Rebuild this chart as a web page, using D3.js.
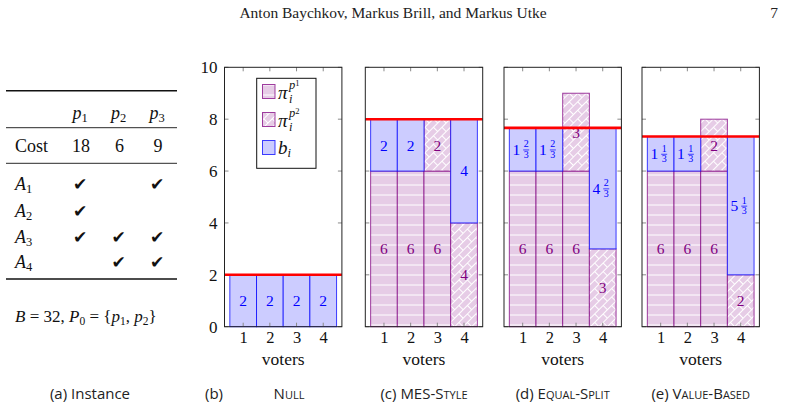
<!DOCTYPE html>
<html><head><meta charset="utf-8">
<script src="https://cdn.jsdelivr.net/npm/d3@7"></script>
<style>
html,body{margin:0;padding:0;background:#fff;}
svg{display:block;}
.serif{font-family:"Liberation Serif","DejaVu Serif",serif;}
.sans{font-family:"Open Sans","Lato",sans-serif;}
</style></head>
<body>
<svg id="c" width="785" height="411"></svg>
<script>
// ---------- data ----------
const voters = [1, 2, 3, 4];
const yTicks = [0, 2, 4, 6, 8, 10];
const methods = ["Null", "MES-Style", "Equal-Split", "Value-Based"];
const captions = ["(b)", "(c)", "(d)", "(e)"];
// per method: support for p1, support for p2, leftover budget b_i, per-voter threshold (red line)
const p1Null = [0, 0, 0, 0], p2Null = [0, 0, 0, 0], bNull = [2, 2, 2, 2], lineNull = 2;
const p1Mes = [6, 6, 6, 0], p2Mes = [0, 0, 2, 4], bMes = [2, 2, 0, 4], lineMes = 8;
const p1Eq = [6, 6, 6, 0], p2Eq = [0, 0, 3, 3], bEq = [5/3, 5/3, 0, 14/3], lineEq = 23/3;
const p1Val = [6, 6, 6, 0], p2Val = [0, 0, 2, 2], bVal = [4/3, 4/3, 0, 16/3], lineVal = 22/3;
const panelData = [
  {p1: p1Null, p2: p2Null, b: bNull, line: lineNull},
  {p1: p1Mes, p2: p2Mes, b: bMes, line: lineMes},
  {p1: p1Eq, p2: p2Eq, b: bEq, line: lineEq},
  {p1: p1Val, p2: p2Val, b: bVal, line: lineVal}
];
// instance table
const projects = ["1", "2", "3"];
const costs = [18, 6, 9];
const agents = ["1", "2", "3", "4"];
const approvals = [[1, 0, 1], [1, 0, 0], [1, 1, 1], [0, 1, 1]];

// ---------- drawing ----------
const svg = d3.select("#c");
const PURPLE = "#800080", PFILL = "#e6cce6", BLUE = "#0000ff", BFILL = "#ccccff";

const defs = svg.append("defs");
const ph = defs.append("pattern").attr("id", "hl").attr("patternUnits", "userSpaceOnUse")
  .attr("width", 10).attr("height", 10);
ph.append("line").attr("x1", 0).attr("x2", 10).attr("y1", 5).attr("y2", 5)
  .attr("stroke", "#fff").attr("stroke-width", 1);
const pb = defs.append("pattern").attr("id", "br").attr("patternUnits", "userSpaceOnUse")
  .attr("width", 12).attr("height", 12).attr("patternTransform", "rotate(-45)");
pb.append("path").attr("d", "M0,0.5H12M0,6.5H12M0.5,0.5V6.5M6.5,6.5V12.5")
  .attr("stroke", "#fff").attr("stroke-width", 1).attr("fill", "none");

// header
svg.append("text").attr("class", "serif").attr("x", 393).attr("y", 18).attr("text-anchor", "middle")
  .attr("font-size", 15.5).attr("fill", "#222").text("Anton Baychkov, Markus Brill, and Markus Utke");
svg.append("text").attr("class", "serif").attr("x", 778).attr("y", 18).attr("text-anchor", "end")
  .attr("font-size", 15.5).attr("fill", "#222").text("7");

// ---------- table ----------
const tg = svg.append("g").attr("class", "serif").attr("fill", "#111").attr("font-size", 18);
const colX = [80, 118.5, 157];
[[90.7, 1.4], [127.7, 0.9], [163.3, 0.9], [279, 1.4]].forEach(([y, w]) =>
  tg.append("line").attr("x1", 6).attr("x2", 177).attr("y1", y).attr("y2", y)
    .attr("stroke", "#111").attr("stroke-width", w));
projects.forEach((p, i) => {
  const t = tg.append("text").attr("x", colX[i]).attr("y", 119).attr("text-anchor", "middle");
  t.append("tspan").attr("font-style", "italic").text("p");
  t.append("tspan").attr("font-size", 12.5).attr("dy", 3).text(p);
});
tg.append("text").attr("x", 15).attr("y", 152).text("Cost");
costs.forEach((c, i) => tg.append("text").attr("x", colX[i] + 1).attr("y", 152)
  .attr("text-anchor", "middle").text(c));
const rowY = [190, 216.5, 242.5, 267.5];
agents.forEach((a, r) => {
  const t = tg.append("text").attr("x", 15).attr("y", rowY[r]);
  t.append("tspan").attr("font-style", "italic").text("A");
  t.append("tspan").attr("font-size", 12.5).attr("dy", 3).text(a);
  approvals[r].forEach((v, c) => {
    if (v) tg.append("text").attr("x", colX[c]).attr("y", rowY[r]).attr("text-anchor", "middle")
      .attr("font-family", "DejaVu Sans").attr("font-size", 17).text("✔");
  });
});
{
  const t = tg.append("text").attr("x", 15).attr("y", 322).attr("font-size", 17);
  t.append("tspan").attr("font-style", "italic").text("B");
  t.append("tspan").text(" = 32, ");
  t.append("tspan").attr("font-style", "italic").text("P");
  t.append("tspan").attr("font-size", 11.5).attr("dy", 3).text("0");
  t.append("tspan").attr("dy", -3).text(" = {");
  t.append("tspan").attr("font-style", "italic").text("p");
  t.append("tspan").attr("font-size", 11.5).attr("dy", 3).text("1");
  t.append("tspan").attr("dy", -3).text(", ");
  t.append("tspan").attr("font-style", "italic").text("p");
  t.append("tspan").attr("font-size", 11.5).attr("dy", 3).text("2");
  t.append("tspan").attr("dy", -3).text("}");
}
svg.append("text").attr("class", "sans").attr("x", 90).attr("y", 399).attr("text-anchor", "middle")
  .attr("font-size", 15).attr("fill", "#222").text("(a) Instance");

// ---------- panels ----------
const panelX = [224.5, 365.3, 504, 642];
const PW = 117.4, YT = 67.3, YB = 326.7;
const y = d3.scaleLinear().domain([0, 10]).range([YB, YT]);

function drawValue(g, v, cx, cy, color) {
  const thirds = Math.round(v * 3);
  const whole = Math.floor(thirds / 3), num = thirds % 3;
  if (num === 0) {
    g.append("text").attr("class", "serif").attr("x", cx).attr("y", cy).attr("dy", "0.35em")
      .attr("text-anchor", "middle").attr("font-size", 15.5).attr("fill", color).text(whole);
  } else {
    g.append("text").attr("class", "serif").attr("x", cx - 2.5).attr("y", cy).attr("dy", "0.35em")
      .attr("text-anchor", "end").attr("font-size", 15.5).attr("fill", color).text(whole);
    const fx = cx + 3.5;
    g.append("text").attr("class", "serif").attr("x", fx).attr("y", cy - 2)
      .attr("text-anchor", "middle").attr("font-size", 10).attr("fill", color).text(num);
    g.append("text").attr("class", "serif").attr("x", fx).attr("y", cy + 8.5)
      .attr("text-anchor", "middle").attr("font-size", 10).attr("fill", color).text(3);
    g.append("line").attr("x1", fx - 3).attr("x2", fx + 3).attr("y1", cy + 0.5).attr("y2", cy + 0.5)
      .attr("stroke", color).attr("stroke-width", 0.7);
  }
}

panelData.forEach((pd, k) => {
  const x0 = panelX[k];
  const x = d3.scaleLinear().domain([0.3, 4.7]).range([x0, x0 + PW]);
  const bw = x(1) - x(0);
  const g = svg.append("g");
  const rows = voters.map((v, i) => ({voter: v, p1: pd.p1[i], p2: pd.p2[i], b: pd.b[i]}));
  const series = d3.stack().keys(["p1", "p2", "b"])(rows);
  series.forEach(s => {
    const isB = s.key === "b";
    s.forEach(d => {
      const h = d[1] - d[0];
      if (h <= 0) return;
      const rx = x(d.data.voter - 0.5), ry = y(d[1]), rh = y(d[0]) - y(d[1]);
      g.append("rect").attr("x", rx).attr("y", ry).attr("width", bw).attr("height", rh)
        .attr("fill", isB ? BFILL : PFILL);
      if (!isB) g.append("rect").attr("x", rx).attr("y", ry).attr("width", bw).attr("height", rh)
        .attr("fill", s.key === "p1" ? "url(#hl)" : "url(#br)");
      g.append("rect").attr("x", rx).attr("y", ry).attr("width", bw).attr("height", rh)
        .attr("fill", "none").attr("stroke", isB ? BLUE : PURPLE).attr("stroke-width", 1)
        .attr("stroke-opacity", 0.75);
    });
  });
  // value labels
  series.forEach(s => {
    s.forEach(d => {
      const h = d[1] - d[0];
      if (h <= 0) return;
      drawValue(g, h, x(d.data.voter), y((d[0] + d[1]) / 2), s.key === "b" ? BLUE : PURPLE);
    });
  });
  // ticks (inside)
  const tick = g.append("g").attr("stroke", "#8a8a8a").attr("stroke-width", 1);
  yTicks.forEach(t => {
    tick.append("line").attr("x1", x0).attr("x2", x0 + 4).attr("y1", y(t)).attr("y2", y(t));
    tick.append("line").attr("x1", x0 + PW - 4).attr("x2", x0 + PW).attr("y1", y(t)).attr("y2", y(t));
  });
  voters.forEach(v => {
    tick.append("line").attr("x1", x(v)).attr("x2", x(v)).attr("y1", YT).attr("y2", YT + 4);
    tick.append("line").attr("x1", x(v)).attr("x2", x(v)).attr("y1", YB).attr("y2", YB - 4);
  });
  // threshold line
  g.append("line").attr("x1", x0).attr("x2", x0 + PW).attr("y1", y(pd.line)).attr("y2", y(pd.line))
    .attr("stroke", "#ff0000").attr("stroke-width", 2.6);
  // frame
  g.append("rect").attr("x", x0).attr("y", YT).attr("width", PW).attr("height", YB - YT)
    .attr("fill", "none").attr("stroke", "#222").attr("stroke-width", 1);
  // x axis labels
  const xa = g.append("g").attr("transform", `translate(0,${YB})`)
    .call(d3.axisBottom(x).tickValues(voters).tickFormat(d3.format("d")).tickSize(0).tickPadding(5));
  xa.select(".domain").remove();
  xa.selectAll("text").attr("class", "serif").attr("font-size", 16.5).attr("fill", "#111").attr("dy", "0.7em");
  g.append("text").attr("class", "serif").attr("x", x(2.5)).attr("y", 364.5).attr("text-anchor", "middle")
    .attr("font-size", 17.5).attr("fill", "#111").text("voters");
  if (k === 0) {
    const ya = g.append("g").attr("transform", `translate(${x0},0)`)
      .call(d3.axisLeft(y).tickValues(yTicks).tickSize(0).tickPadding(7));
    ya.select(".domain").remove();
    ya.selectAll("text").attr("class", "serif").attr("font-size", 17).attr("fill", "#111");
  }
  // captions
  const cx = x0 + PW / 2;
  if (k === 0) {
    svg.append("text").attr("class", "sans").attr("x", 214).attr("y", 399).attr("text-anchor", "middle")
      .attr("font-size", 15).attr("fill", "#222").text(captions[k]);
    svg.append("text").attr("class", "sans").attr("x", 289).attr("y", 399).attr("text-anchor", "middle")
      .attr("font-size", 15).attr("fill", "#222").style("font-variant", "small-caps").text(methods[k]);
  } else {
    const t = svg.append("text").attr("class", "sans").attr("x", cx).attr("y", 399).attr("text-anchor", "middle")
      .attr("font-size", 15).attr("fill", "#222");
    t.append("tspan").text(captions[k] + " ");
    t.append("tspan").style("font-variant", "small-caps").text(methods[k]);
  }
});

// legend (panel b)
const lg = svg.append("g");
lg.append("rect").attr("x", 256.7).attr("y", 78.3).attr("width", 59.3).attr("height", 90)
  .attr("fill", "#fff").attr("stroke", "#111").attr("stroke-width", 1);
const legendItems = [
  {fill: PFILL, pat: "url(#hl)", stroke: PURPLE, sup: "1"},
  {fill: PFILL, pat: "url(#br)", stroke: PURPLE, sup: "2"},
  {fill: BFILL, pat: null, stroke: BLUE, sup: null}
];
legendItems.forEach((it, i) => {
  const sy = 84.5 + i * 28;
  lg.append("rect").attr("x", 262.5).attr("y", sy).attr("width", 12.5).attr("height", 14).attr("fill", it.fill);
  if (it.pat) lg.append("rect").attr("x", 262.5).attr("y", sy).attr("width", 12.5).attr("height", 14).attr("fill", it.pat);
  lg.append("rect").attr("x", 262.5).attr("y", sy).attr("width", 12.5).attr("height", 14)
    .attr("fill", "none").attr("stroke", it.stroke).attr("stroke-opacity", 0.75);
  if (it.sup) {
    lg.append("text").attr("class", "serif").attr("x", 278).attr("y", sy + 14)
      .attr("font-size", 19).attr("font-style", "italic").attr("fill", "#111").text("π");
    const sp = lg.append("text").attr("class", "serif").attr("x", 289).attr("y", sy + 4)
      .attr("font-size", 12.5).attr("fill", "#111");
    sp.append("tspan").attr("font-style", "italic").text("p");
    sp.append("tspan").attr("font-size", 8.5).attr("dy", -3).text(it.sup);
    lg.append("text").attr("class", "serif").attr("x", 289).attr("y", sy + 18)
      .attr("font-size", 12.5).attr("font-style", "italic").attr("fill", "#111").text("i");
  } else {
    const t = lg.append("text").attr("class", "serif").attr("x", 278).attr("y", sy + 13)
      .attr("font-size", 19).attr("fill", "#111");
    t.append("tspan").attr("font-style", "italic").text("b");
    t.append("tspan").attr("font-style", "italic").attr("font-size", 12.5).attr("dy", 3).text("i");
  }
});
</script>
</body></html>
